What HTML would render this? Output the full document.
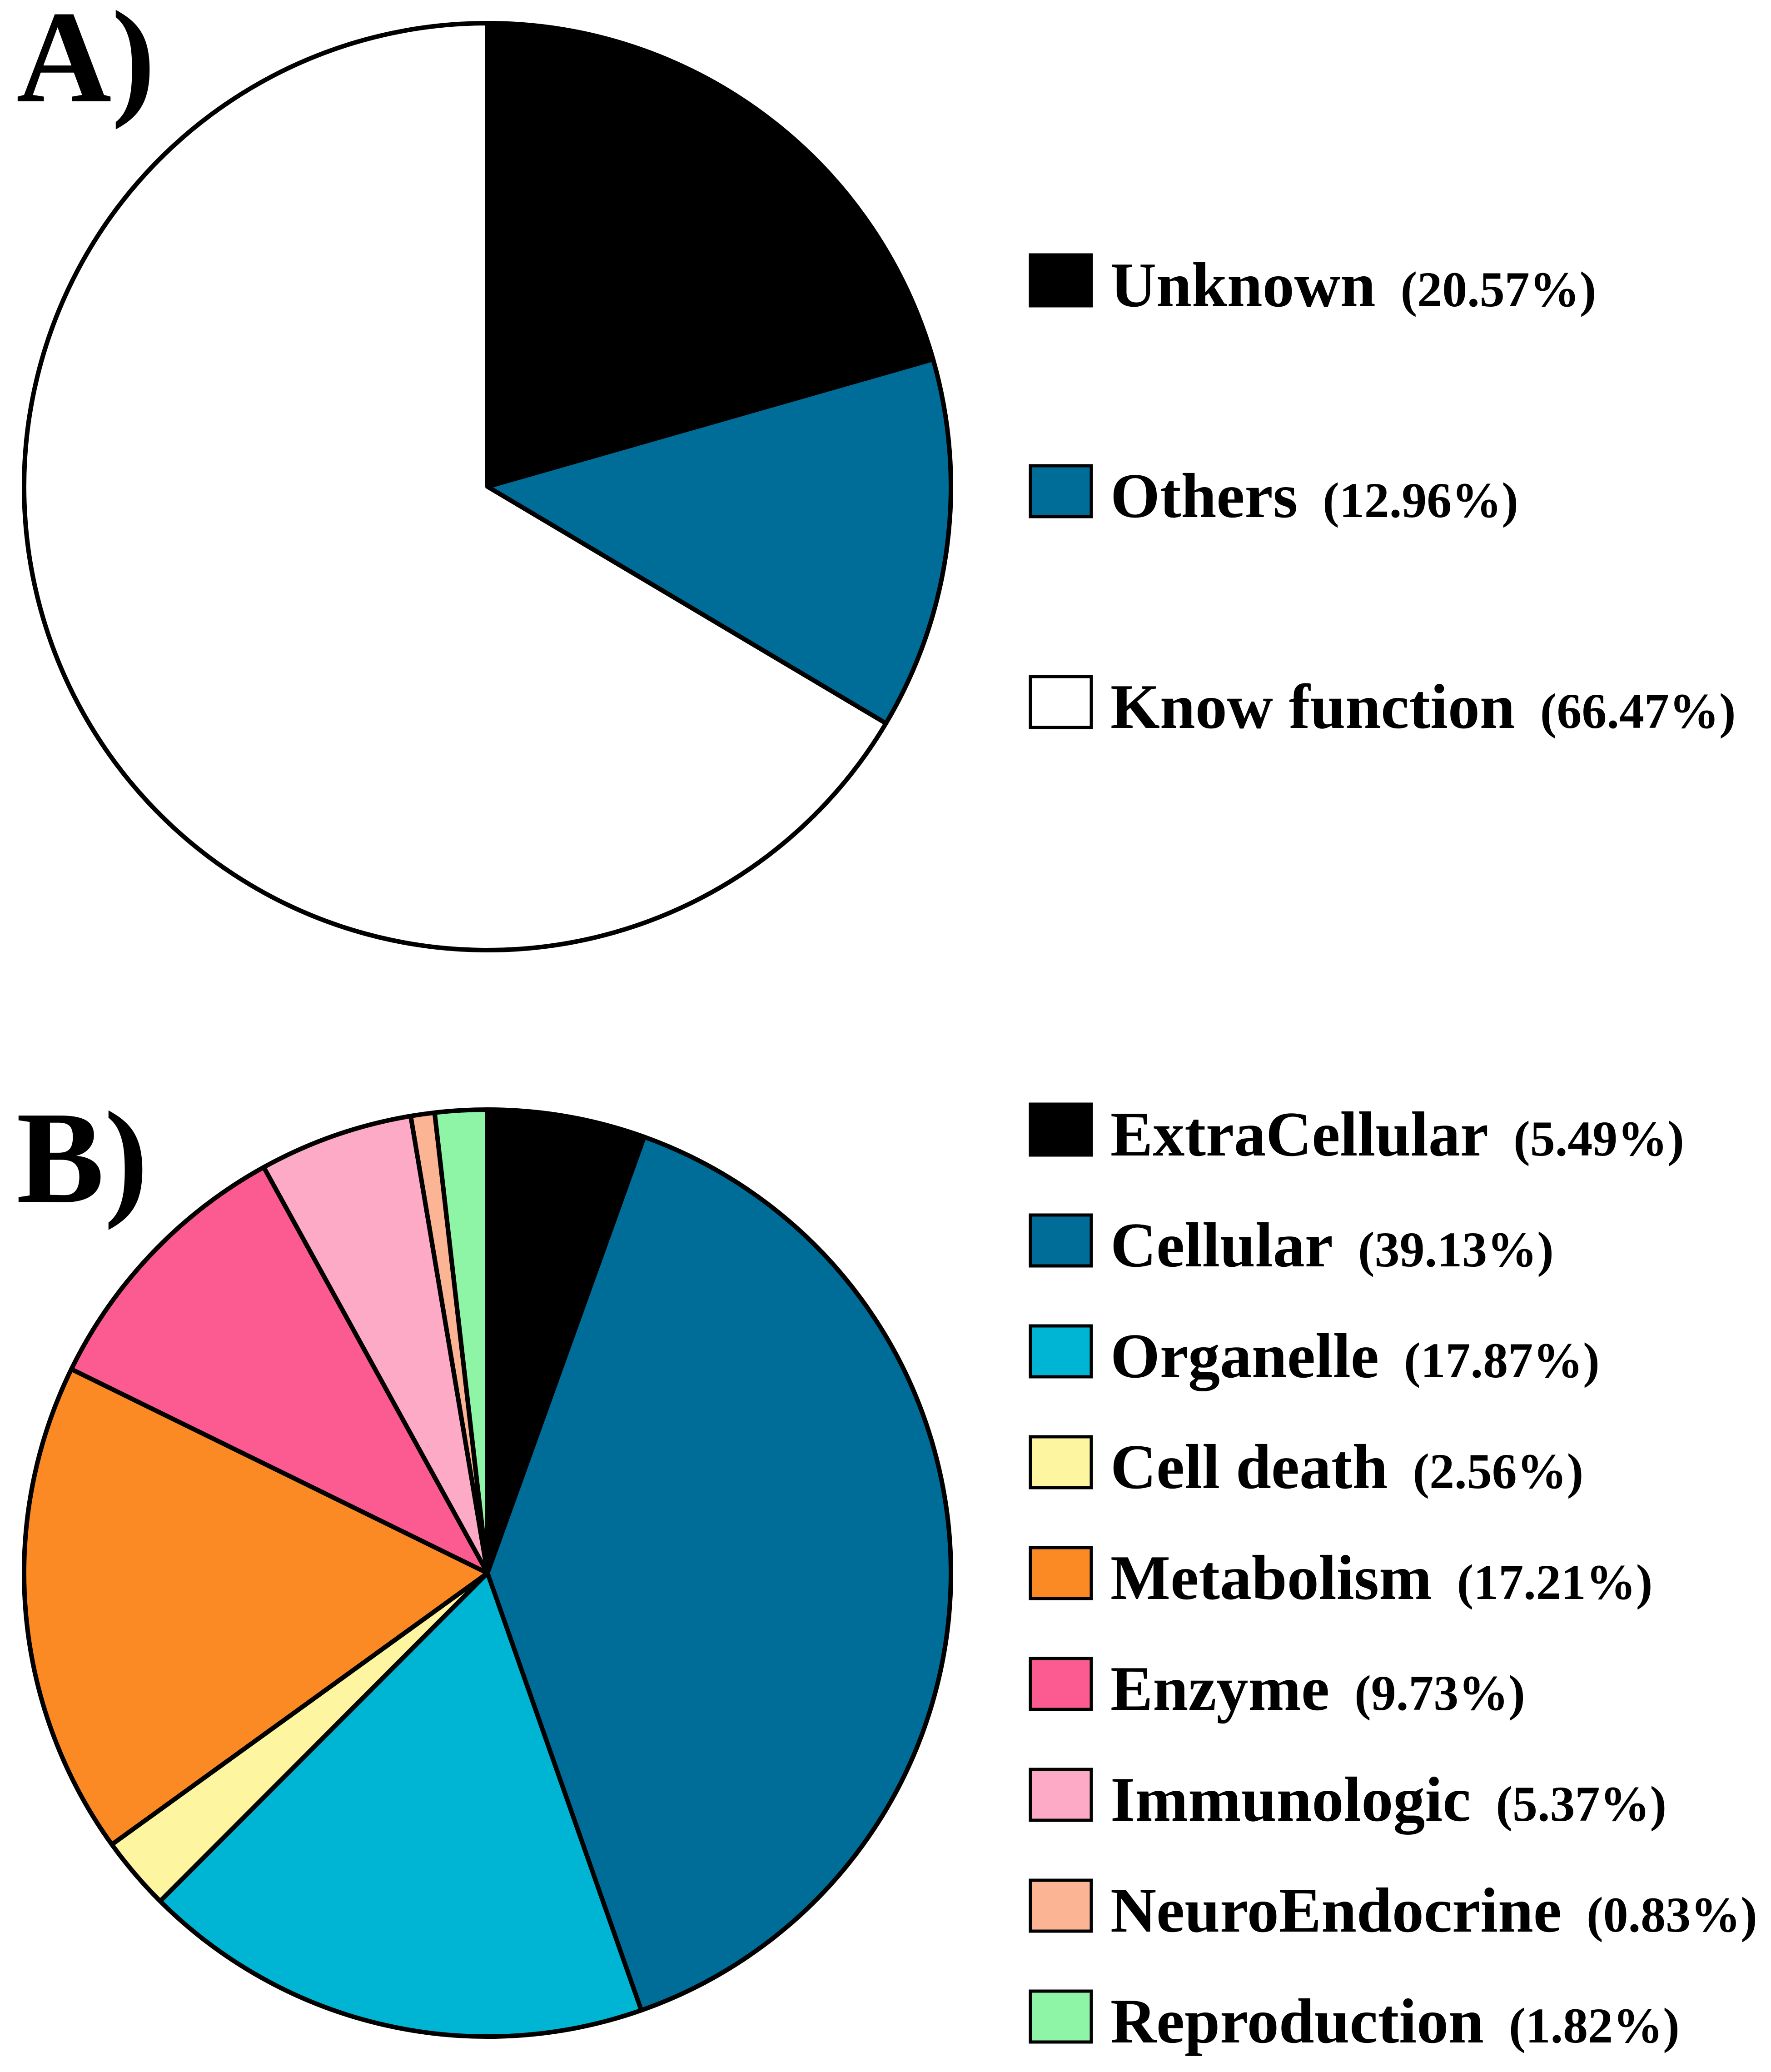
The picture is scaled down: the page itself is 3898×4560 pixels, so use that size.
<!DOCTYPE html>
<html><head><meta charset="utf-8"><style>
html,body{margin:0;padding:0;background:#fff;}
svg{display:block;}
text{font-family:"Liberation Serif",serif;font-weight:bold;fill:#000;}
</style></head><body>
<svg id="chart" width="3898" height="4560" viewBox="0 0 3898 4560" xmlns="http://www.w3.org/2000/svg">
<rect width="3898" height="4560" fill="#fff"/>
<text x="36" y="223" font-size="290">A)</text>
<text x="36" y="2645" font-size="290">B)</text>
<g id="pieA"></g>
<g id="pieB"></g>
<g id="legA"></g>
<g id="legB"></g>
</svg>
<script>
const catsA = ["Unknown","Others","Know function"];
const valsA = [20.57,12.96,66.47];
const colorsA = ["#000000","#006d99","#ffffff"];
const catsB = ["ExtraCellular","Cellular","Organelle","Cell death","Metabolism","Enzyme","Immunologic","NeuroEndocrine","Reproduction"];
const valsB = [5.49,39.13,17.87,2.56,17.21,9.73,5.37,0.83,1.82];
const colorsB = ["#000000","#006d99","#00b4d4","#fdf5a0","#fb8a24","#fc5b91","#fcaac5","#fbb595","#8df5a5"];
const NS="http://www.w3.org/2000/svg";
function pie(g,vals,colors,cats,cx,cy,r){
  const tot=vals.reduce((a,b)=>a+b,0);let a0=0;
  vals.forEach((v,i)=>{
    const a1=a0+v/tot*2*Math.PI;
    const x0=cx+r*Math.sin(a0),y0=cy-r*Math.cos(a0),x1=cx+r*Math.sin(a1),y1=cy-r*Math.cos(a1);
    const p=document.createElementNS(NS,"path");
    p.setAttribute("d",`M${cx},${cy}L${x0},${y0}A${r},${r} 0 ${(a1-a0)>Math.PI?1:0} 1 ${x1},${y1}Z`);
    p.setAttribute("fill",colors[i]);p.setAttribute("stroke","#000");p.setAttribute("stroke-width","10");p.setAttribute("stroke-linejoin","round");
    
    
    g.appendChild(p);a0=a1;
  });
}
function legend(g,cats,vals,colors,y0,step){
  cats.forEach((c,i)=>{
    const y=y0+i*step;
    const rc=document.createElementNS(NS,"rect");
    rc.setAttribute("x",2268);rc.setAttribute("y",y);rc.setAttribute("width",134);rc.setAttribute("height",112);
    rc.setAttribute("fill",colors[i]);rc.setAttribute("stroke","#000");rc.setAttribute("stroke-width","7");
    
    
    g.appendChild(rc);
    const t=document.createElementNS(NS,"text");
    t.setAttribute("x",2444);t.setAttribute("y",y+113);t.setAttribute("font-size","140");
    
    
    const s1=document.createElementNS(NS,"tspan");s1.textContent=c;
    const s2=document.createElementNS(NS,"tspan");s2.setAttribute("dx","55");s2.setAttribute("font-size","110");
    s2.textContent="("+vals[i].toFixed(2)+"%)";
    t.appendChild(s1);t.appendChild(s2);g.appendChild(t);
  });
}
pie(document.getElementById("pieA"),valsA,colorsA,catsA,1073,1071,1020);
pie(document.getElementById("pieB"),valsB,colorsB,catsB,1073,3462,1020);
legend(document.getElementById("legA"),catsA,valsA,colorsA,561,464);
legend(document.getElementById("legB"),catsB,valsB,colorsB,2430,244);
</script>
</body></html>
